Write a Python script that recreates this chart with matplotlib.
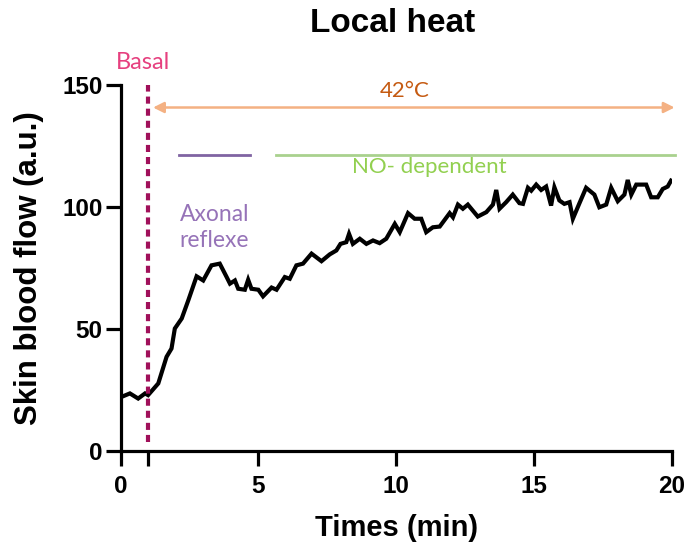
import matplotlib.pyplot as plt
import numpy as np

# skin blood flow trace
time_min = [0.04, 0.34, 0.64, 0.89, 1.0, 1.37, 1.67, 1.85, 1.97, 2.22, 2.46, 2.76, 3.0,
            3.3, 3.6, 3.85, 3.97, 4.15, 4.27, 4.51, 4.63, 4.75, 5.0, 5.17, 5.48, 5.66,
            5.96, 6.14, 6.38, 6.62, 6.93, 7.29, 7.59, 7.83, 7.98, 8.19, 8.29, 8.43, 8.68,
            8.92, 9.16, 9.4, 9.64, 9.95, 10.13, 10.43, 10.67, 10.91, 11.09, 11.33, 11.58,
            11.94, 12.06, 12.24, 12.42, 12.6, 12.96, 13.27, 13.51, 13.63, 13.75, 13.99,
            14.23, 14.47, 14.6, 14.78, 14.9, 15.08, 15.26, 15.44, 15.62, 15.74, 15.92,
            16.1, 16.29, 16.41, 16.65, 16.89, 17.19, 17.37, 17.62, 17.8, 18.04, 18.28,
            18.4, 18.53, 18.71, 19.07, 19.25, 19.49, 19.67, 19.85, 19.97]
flow = [22.2, 23.6, 21.5, 23.6, 22.9, 27.7, 38.6, 42.0, 50.2, 54.3, 61.8, 71.6, 69.9,
        76.1, 76.8, 71.3, 68.6, 69.9, 66.5, 66.1, 70.2, 66.5, 66.1, 63.4, 67.0, 66.1,
        71.3, 70.6, 76.1, 76.8, 80.9, 77.8, 80.6, 82.2, 84.9, 85.6, 89.0, 84.9, 87.0,
        84.9, 86.3, 85.2, 87.0, 93.1, 89.7, 97.5, 95.2, 95.2, 89.7, 91.7, 92.0,
        97.5, 95.8, 101.0, 99.3, 101.0, 96.1, 97.9, 101.0, 107.0, 99.3, 102.0,
        105.1, 101.6, 101.3, 107.9, 106.7, 109.2, 107.0, 108.4, 100.6, 108.1, 102.7,
        101.3, 102.0, 95.2, 101.6, 107.9, 105.1, 99.9, 101.0, 107.9, 102.4, 105.1,
        111.1, 105.1, 109.2, 109.2, 104.0, 104.0, 107.4, 108.4, 110.8]

x_ticks = [0, 1, 5, 10, 15, 20]
x_tick_labels = ['0', '', '5', '10', '15', '20']
y_ticks = [0, 50, 100, 150]

basal_time = 1
heat_span = [1.18, 20.1]
heat_level = 140.8
axonal_span = [2.12, 4.69]
no_span = [5.63, 20.13]
phase_level = 121.3

fig = plt.figure(figsize=(6.84, 5.47), dpi=100)
ax = fig.add_axes([0.1762, 0.1755, 0.806, 0.669])

ax.plot(time_min, flow, color='black', lw=3, solid_joinstyle='miter', zorder=3)

# basal marker
ax.plot([basal_time, basal_time], [3.8, 150], color='#a0105a', lw=3,
        dashes=(1.7, 1.2), dash_capstyle='butt', clip_on=False, zorder=4)
ax.text(0.82, 155, 'Basal', color='#e6407f', fontsize=17, family='Lato',
        ha='center', va='bottom')

# 42 degree heating arrow
ax.annotate('', xy=(heat_span[1], heat_level), xytext=(heat_span[0], heat_level),
            arrowprops=dict(arrowstyle='<|-|>', color='#f4b183', lw=1.8,
                            mutation_scale=16, shrinkA=0, shrinkB=0),
            annotation_clip=False)
ax.text(10.3, 143.5, '42°C', color='#c55a11', fontsize=16, family='Lato',
        ha='center', va='bottom')

# phases
ax.plot(axonal_span, [phase_level, phase_level], color='#8064a2', lw=2, clip_on=False)
ax.plot(no_span, [phase_level, phase_level], color='#a9d18e', lw=2, clip_on=False)
ax.text(3.4, 91.5, 'Axonal\nreflexe', color='#9673b8', fontsize=16.5, family='Lato',
        ha='center', va='center', linespacing=1.3)
ax.text(11.2, 116.5, 'NO- dependent', color='#92d050', fontsize=16, family='Lato',
        ha='center', va='center')

ax.set_xlim(0, 20)
ax.set_ylim(0, 150)
ax.set_xticks(x_ticks)
ax.set_xticklabels(x_tick_labels)
ax.set_yticks(y_ticks)

for side in ['top', 'right']:
    ax.spines[side].set_visible(False)
for side in ['left', 'bottom']:
    ax.spines[side].set_linewidth(2.3)
ax.tick_params(direction='out', length=11, width=2.3, labelsize=17.5)
ax.tick_params(axis='x', pad=6)
ax.tick_params(axis='y', pad=2)
for lab in ax.get_xticklabels() + ax.get_yticklabels():
    lab.set_family('Liberation Sans')
    lab.set_fontweight('bold')

ax.set_title('Local heat', fontsize=24, fontweight='bold', family='Liberation Sans',
             pad=38, x=0.494)
ax.set_xlabel('Times (min)', fontsize=21, fontweight='bold', family='Liberation Sans', labelpad=12)
ax.set_ylabel('Skin blood flow (a.u.)', fontsize=22.5, fontweight='bold', family='Liberation Sans', labelpad=13)

fig.savefig('out.png', dpi=100)
